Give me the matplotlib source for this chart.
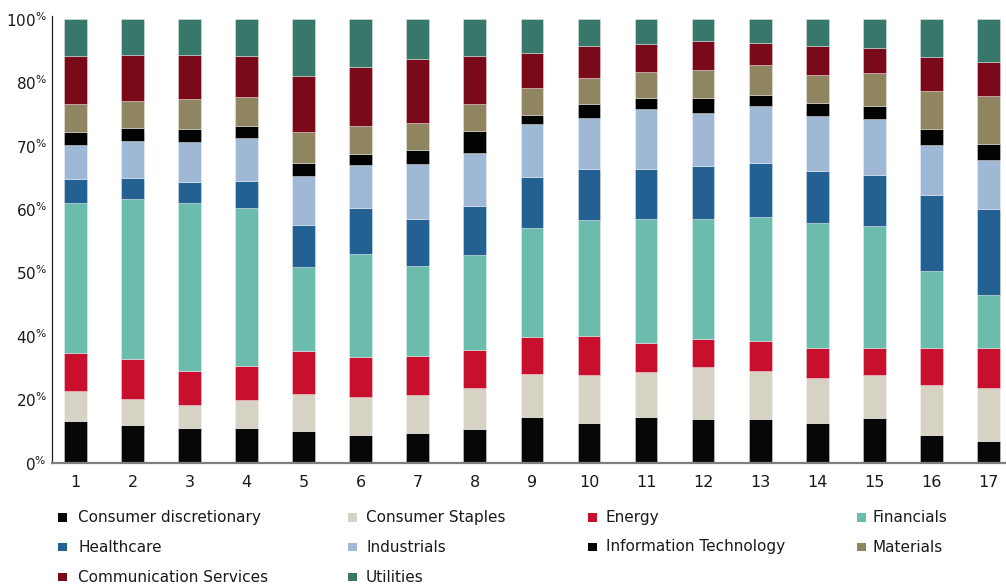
import matplotlib
matplotlib.use("Agg")
import matplotlib.pyplot as plt
import numpy as np
from matplotlib.patches import Rectangle

plt.rcParams['font.family'] = ['DejaVu Sans']

periods = [str(i) for i in range(1, 18)]

sectors = ["Consumer discretionary", "Consumer Staples", "Energy", "Financials",
           "Healthcare", "Industrials", "Information Technology", "Materials",
           "Communication Services", "Utilities"]

colors = ["#070707", "#d6d3c4", "#c8102e", "#6bbcad", "#236192",
          "#9fb8d6", "#030303", "#8f8661", "#7a0919", "#38786b"]

consumer_disc = [9.3, 8.6, 7.8, 7.8, 7.1, 6.3, 6.6, 7.6, 10.3, 9.0, 10.3, 9.8, 9.8, 9.0, 10.0, 6.2, 5.0]
consumer_staples = [6.8, 5.9, 5.3, 6.3, 8.5, 8.6, 8.7, 9.2, 9.6, 10.7, 10.2, 11.9, 10.9, 10.2, 9.7, 11.4, 11.9]
energy = [8.6, 8.9, 7.5, 7.7, 9.6, 8.9, 8.7, 8.6, 8.5, 8.9, 6.5, 6.2, 6.8, 6.7, 6.2, 8.4, 8.9]
financials = [33.9, 36.1, 38.0, 35.6, 18.9, 23.2, 20.3, 21.4, 24.4, 26.1, 28.0, 27.1, 27.8, 28.1, 27.4, 17.3, 12.1]
healthcare = [5.3, 4.8, 4.7, 6.2, 9.6, 10.4, 10.6, 11.1, 11.6, 11.6, 11.3, 11.9, 12.3, 11.7, 11.5, 17.1, 19.3]
industrials = [7.7, 8.3, 9.0, 9.7, 10.9, 9.7, 12.4, 12.0, 11.9, 11.4, 13.5, 12.1, 12.8, 12.5, 12.6, 11.2, 11.2]
info_tech = [2.9, 3.1, 2.9, 2.6, 2.9, 2.6, 3.1, 4.9, 1.9, 3.2, 2.6, 3.3, 2.6, 2.9, 2.9, 3.6, 3.6]
materials = [6.3, 5.9, 6.8, 6.5, 7.0, 6.2, 6.1, 6.1, 6.3, 5.9, 5.9, 6.4, 6.7, 6.3, 7.5, 8.7, 10.7]
comm_services = [10.9, 10.6, 9.9, 9.4, 12.6, 13.3, 14.4, 10.9, 7.7, 7.1, 6.3, 6.5, 5.0, 6.5, 5.7, 7.7, 7.7]
utilities = [8.2, 8.0, 8.0, 8.2, 12.9, 10.9, 9.0, 8.2, 7.7, 6.1, 5.6, 4.9, 5.3, 6.1, 6.4, 8.5, 9.7]

series = [consumer_disc, consumer_staples, energy, financials, healthcare,
          industrials, info_tech, materials, comm_services, utilities]

ytick_labels = ["0", "20", "40", "50", "60", "70", "80", "100"]

fig = plt.figure(figsize=(10.06, 5.85), dpi=100)
ax = fig.add_axes([0.052, 0.209, 0.948, 0.7636])

x = np.arange(1, len(periods) + 1)
data = np.array(series, dtype=float)
totals = data.sum(axis=0)
data = data / totals * 100.0
bottom = np.zeros(len(periods))
for vals, c, name in zip(data, colors, sectors):
    ax.bar(x, vals, bottom=bottom, width=0.40, color=c,
           edgecolor=(1, 1, 1, 0.35), linewidth=0.7, label=name)
    bottom += vals

ax.set_xlim(0.593, 17.31)
ax.set_ylim(0, 100.7)
ax.set_xticks(x)
ax.set_xticklabels(periods, fontsize=11.5, color="#1a1a1a")
yt = np.linspace(0, 100, len(ytick_labels))
ax.set_yticks(yt)
ax.set_yticklabels([r"$\mathregular{%s^{\%%}}$" % l for l in ytick_labels],
                   fontsize=11, color="#1a1a1a")
ax.tick_params(axis="x", length=0, pad=9)
ax.tick_params(axis="y", length=0, pad=4)
for s in ["top", "right"]:
    ax.spines[s].set_visible(False)
ax.spines["left"].set_color("#222222")
ax.spines["left"].set_linewidth(0.9)
ax.spines["bottom"].set_color("#7f7f7f")
ax.spines["bottom"].set_linewidth(1.6)

# legend laid out row-wise in 4 columns
col_x = [62.5, 352.5, 592.5, 861.7]
text_x = [78.3, 366.0, 605.7, 872.3]
row_y = [517.5, 547.0, 577.0]
W, H = 1006.0, 585.0
msize = 8.5
for i, (name, c) in enumerate(zip(sectors, colors)):
    r, k = divmod(i, 4)
    cx, cy = col_x[k], row_y[r]
    fig.patches.append(Rectangle(((cx - msize / 2) / W, 1 - (cy + msize / 2) / H),
                                 msize / W, msize / H, transform=fig.transFigure,
                                 facecolor=c, edgecolor="none"))
    fig.text(text_x[k] / W, 1 - cy / H, name, fontsize=11, va="center",
             ha="left", color="#1a1a1a")

fig.savefig("out.png", dpi=100)
